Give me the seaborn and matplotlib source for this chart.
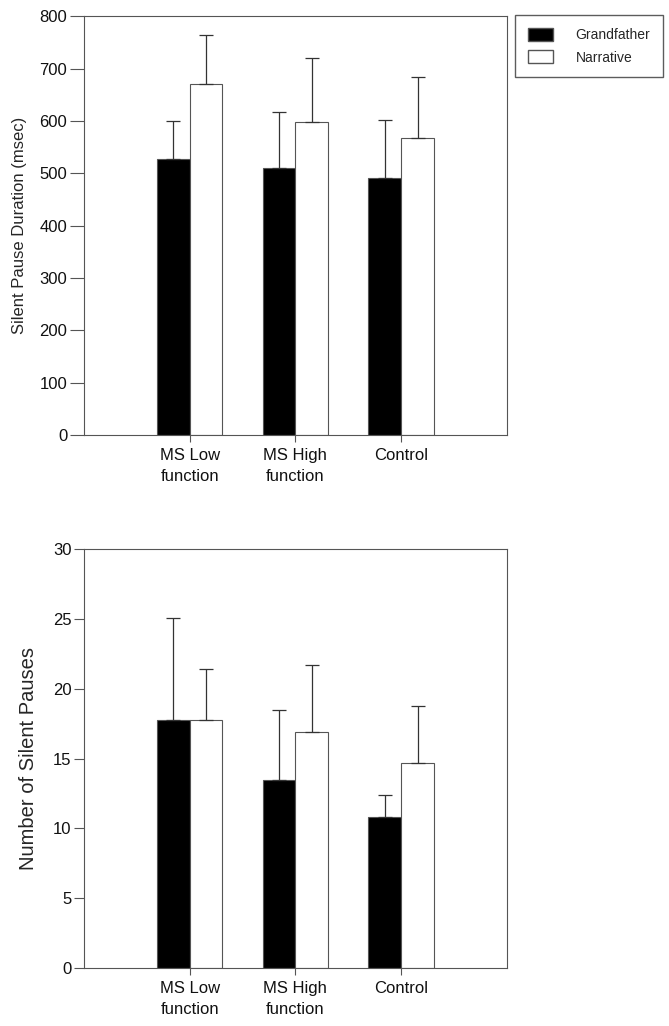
import numpy as np
import pandas as pd
import seaborn as sns
import matplotlib.pyplot as plt
from matplotlib.patches import Patch

groups = ["MS Low\nfunction", "MS High\nfunction", "Control"]
tasks = ["Grandfather", "Narrative"]

# silent pause duration (msec), means and upper error bar tops
dur_grand = [527, 510, 492]
dur_narr = [670, 598, 568]
dur_grand_top = [600, 617, 602]
dur_narr_top = [765, 721, 685]

# number of silent pauses
num_grand = [17.8, 13.5, 10.8]
num_narr = [17.8, 16.9, 14.7]
num_grand_top = [25.1, 18.5, 12.4]
num_narr_top = [21.4, 21.7, 18.75]

sns.set_style("ticks")
plt.rcParams['font.family'] = ['Liberation Sans', 'DejaVu Sans']

fig = plt.figure(figsize=(6.69, 10.26), dpi=100)
ax1 = fig.add_axes([0.1256, 0.576, 0.632, 0.408])
ax2 = fig.add_axes([0.1256, 0.0565, 0.632, 0.408])


def draw(ax, g, n, g_top, n_top, ymax, step, ylabel, lsize, ytick_len, lpad):
    df = pd.DataFrame({
        "group": groups * 2,
        "task": [tasks[0]] * 3 + [tasks[1]] * 3,
        "value": g + n,
    })
    sns.barplot(data=df, x="group", y="value", hue="task", ax=ax,
                palette=["black", "white"], width=0.62, edgecolor="#555555",
                linewidth=0.8, errorbar=None, legend=False)
    tops = [g_top, n_top]
    for cont, top in zip(ax.containers, tops):
        for bar, t in zip(cont, top):
            xc = bar.get_x() + bar.get_width() / 2
            h = bar.get_height()
            ax.errorbar(xc, h, yerr=[[0], [t - h]], fmt="none",
                        ecolor="#333333", elinewidth=0.9, capsize=5, capthick=0.9)
    ax.set_xlim(-1, 3)
    ax.set_ylim(0, ymax)
    ax.set_yticks(np.arange(0, ymax + 1, step))
    ax.set_xlabel("")
    ax.set_ylabel(ylabel, fontsize=lsize, labelpad=lpad)
    ax.tick_params(axis="y", labelsize=12, length=ytick_len, width=0.8,
                   color="#555555", pad=2, labelcolor="#111111")
    ax.tick_params(axis="x", labelsize=12, length=5, width=0.8,
                   color="#555555", pad=4, labelcolor="#111111")
    for lab in ax.get_xticklabels():
        lab.set_linespacing(1.5)
    for s in ax.spines.values():
        s.set_visible(True)
        s.set_color("#555555")
        s.set_linewidth(0.8)


draw(ax1, dur_grand, dur_narr, dur_grand_top, dur_narr_top, 800, 100,
     "Silent Pause Duration (msec)", 12, 10, 9)
draw(ax2, num_grand, num_narr, num_grand_top, num_narr_top, 30, 5,
     "Number of Silent Pauses", 14.5, 7, 11)

handles = [Patch(facecolor="black", edgecolor="#555555", label=tasks[0]),
           Patch(facecolor="white", edgecolor="#555555", label=tasks[1])]
fig.legend(handles=handles, loc="upper left", bbox_to_anchor=(0.77, 0.985),
           borderaxespad=0, frameon=True, fancybox=False, edgecolor="#333333",
           handlelength=1.8, handleheight=1.08, handletextpad=1.66,
           borderpad=0.9, labelspacing=0.58,
           prop={'size': 10})

fig.savefig("out.png", dpi=100, facecolor="white")
